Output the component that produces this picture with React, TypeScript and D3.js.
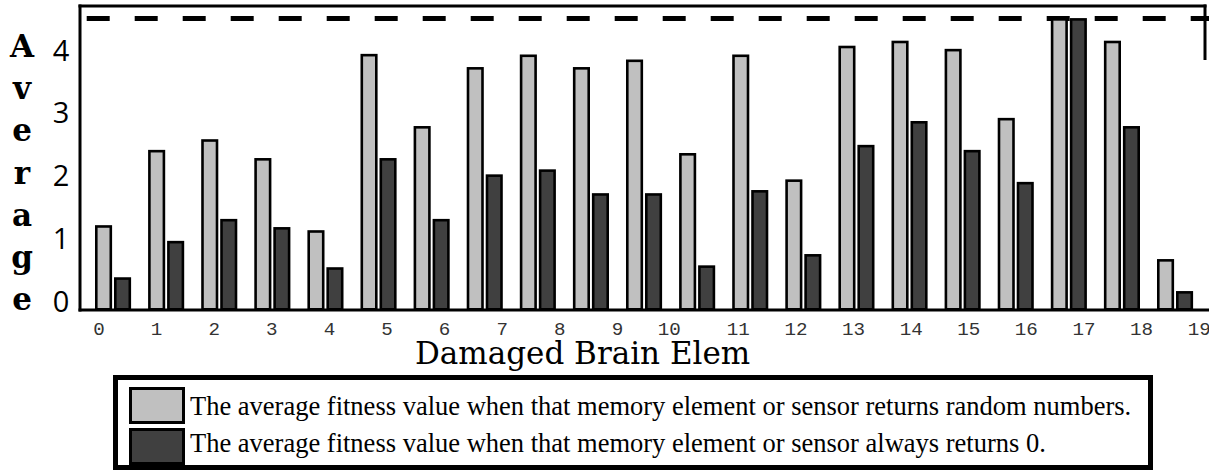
import React from "react";
import * as d3 from "d3";

// ---- data ----
const groups = d3.range(21);
const randomValues = [1.32, 2.52, 2.69, 2.39, 1.24, 4.05, 2.9, 3.84, 4.04, 3.84, 3.96, 2.47, 4.04, 2.05, 4.18, 4.26, 4.13, 3.03, 4.62, 4.26, 0.78];
const zeroValues = [0.49, 1.07, 1.42, 1.29, 0.65, 2.39, 1.42, 2.13, 2.21, 1.83, 1.83, 0.68, 1.88, 0.86, 2.6, 2.98, 2.52, 2.01, 4.62, 2.9, 0.27];
const maxFitness = 4.62;
const yTicks = [0, 1, 2, 3, 4];
const xLabels = ["0", "1", "2", "3", "4", "5", "6", "7", "8", "9", "10", "11", "12", "13", "14", "15", "16", "17", "18", "19"];
// character column at which each label starts in the monospace label row
const xLabelColumns = [0, 5, 10, 15, 20, 25, 30, 35, 40, 45, 49, 55, 60, 65, 70, 75, 80, 85, 90, 95];
const yTitle = ["A", "v", "e", "r", "a", "g", "e"];
const xTitle = "Damaged Brain Elem";
const legendItems = [
  { label: "The average fitness value when that memory element or sensor returns random numbers.", color: "#c0c0c0" },
  { label: "The average fitness value when that memory element or sensor always returns 0.", color: "#404040" },
];

const W = 1209;
const H = 472;

export default function App() {
  const plotLeft = 80;
  const plotTop = 6;
  const baseY = 308;

  const x = d3.scaleLinear().domain([0, 20]).range([95, 1157]);
  const y = d3.scaleLinear().domain([0, 4]).range([baseY, baseY - 4 * 62.75]);
  const charW = 11.52;
  const col = d3.scaleLinear().domain([0, 1]).range([93.25, 93.25 + charW]);

  const barW = 14.5;
  const sw = 2.6;

  return (
    <svg width={W} height={H} style={{ position: "absolute", left: 0, top: 0, background: "#fff" }}>
      {/* dashed max line */}
      <line x1={86.7} x2={W} y1={y(maxFitness) + 0.5} y2={y(maxFitness) + 0.5} stroke="#000" strokeWidth={5} strokeDasharray="23 25" />

      {/* bars */}
      {groups.map((g) => (
        <g key={g}>
          <rect x={x(g) + sw / 2} y={y(randomValues[g]) + sw / 2} width={barW} height={baseY - y(randomValues[g])} fill="#c0c0c0" stroke="#000" strokeWidth={sw} />
          <rect x={x(g) + 19 + sw / 2} y={y(zeroValues[g]) + sw / 2} width={barW} height={baseY - y(zeroValues[g])} fill="#404040" stroke="#000" strokeWidth={sw} />
        </g>
      ))}

      {/* frame */}
      <line x1={plotLeft} x2={plotLeft} y1={plotTop - 1.5} y2={311.5} stroke="#000" strokeWidth={3} />
      <line x1={plotLeft - 1.5} x2={1206.5} y1={plotTop} y2={plotTop} stroke="#000" strokeWidth={3} />
      <line x1={1205} x2={1205} y1={plotTop - 1.5} y2={60} stroke="#000" strokeWidth={3} />
      <line x1={plotLeft - 1.5} x2={W} y1={310} y2={310} stroke="#000" strokeWidth={3} />

      {/* y ticks */}
      {yTicks.map((t) => (
        <text key={t} x={61} y={y(t) + 3.5} textAnchor="middle" fontFamily="'Open Sans', sans-serif" fontWeight={400} fontSize={29} fill="#000">
          {t}
        </text>
      ))}

      {/* y title */}
      {yTitle.map((ch, i) => (
        <text key={i} x={22} y={57 + i * 42.2} textAnchor="middle" fontFamily="'DejaVu Serif', serif" fontWeight="bold" fontSize={31} fill="#000">
          {ch}
        </text>
      ))}

      {/* x labels */}
      {xLabels.map((lab, i) => (
        <text key={lab} x={col(xLabelColumns[i] + lab.length / 2)} y={335} textAnchor="middle" fontFamily="'Liberation Mono', monospace" fontSize={19.2} fill="#333">
          {lab}
        </text>
      ))}

      {/* x title */}
      <text x={415} y={364} fontFamily="'DejaVu Serif', serif" fontSize={31} fill="#000">
        {xTitle}
      </text>

      {/* legend */}
      <rect x={115.5} y={377.5} width={1035} height={90} fill="#fff" stroke="#000" strokeWidth={5} />
      {legendItems.map((it, i) => (
        <g key={i}>
          <rect x={130.5} y={388.5 + i * 41} width={53} height={34} fill={it.color} stroke="#000" strokeWidth={3} />
          <text x={190} y={415 + i * 37} fontFamily="'Liberation Serif', 'Times New Roman', serif" fontSize={26.5} fill="#000">
            {it.label}
          </text>
        </g>
      ))}
    </svg>
  );
}
